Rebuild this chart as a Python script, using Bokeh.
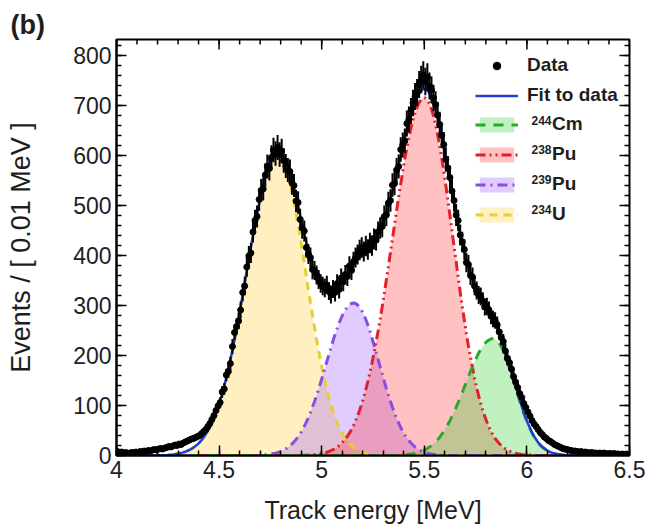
import numpy as np
from bokeh.plotting import figure
from bokeh.models import (Range1d, FixedTicker, Legend, LegendItem,
                          Label, ColumnDataSource)
from bokeh.embed import file_html
from bokeh.resources import INLINE

# ---- histogram binning -------------------------------------------------
bin_width = 0.01            # MeV
first_bin_center = 4.005    # MeV

# Events per 0.01 MeV bin, 4.00 - 6.50 MeV
counts = [
    8, 6, 7, 5, 6, 4, 5, 6, 5, 7, 6, 8, 7, 9, 8, 10, 9, 11, 12, 11,
    13, 14, 13, 15, 16, 18, 17, 19, 21, 20, 23, 22, 25, 27, 29, 31,
    33, 34, 36, 38, 40, 44, 48, 52, 58, 64,
    72, 80, 90, 99, 106, 127, 133, 161, 168, 184,
    218, 246, 258, 269, 291, 326, 339, 377, 399, 405,
    447, 470, 478, 512, 530, 533, 561, 578, 574, 596,
    611, 604, 616,
    602, 609, 590, 579, 571, 568, 545, 540, 509, 506, 472, 455, 449, 416, 403, 396, 372,
    370, 361, 352, 344, 339, 335, 341, 329, 322, 333,
    326, 344, 332, 355, 347, 362, 358, 379, 370, 388,
    396, 402, 411, 416, 408, 419, 412, 425, 420, 433,
    431, 447,
    455, 458, 478, 481, 505, 510, 541, 544, 571, 578,
    612, 621, 629, 664, 672, 689, 705, 718, 726, 742,
    752, 761, 748, 757, 739, 731, 715, 702, 681, 662,
    640, 622, 592, 575, 556, 529, 510, 481, 470, 441,
    427, 412, 386, 382, 360, 357, 339, 330, 321, 318,
    309, 297, 298, 291, 279, 273, 270, 262, 247, 236,
    228, 209, 194, 186, 173, 158, 147, 136, 124, 116,
    104,
    96, 87, 79, 70, 63, 58, 52, 46, 42, 37,
    34, 30, 28, 25, 22, 20, 18, 16, 14, 13,
    12, 11, 10, 9, 9, 8, 7, 8, 6, 7,
    6, 5, 6, 5, 5, 4, 5, 4, 5, 4,
    3, 4, 3, 4, 3, 3, 2, 3, 2, 3,
    2,
]

# ---- fitted components (events per bin, from the first listed bin on) ----
u234_start = 4.255
u234 = [
    1.4, 1.7, 2.2, 2.7, 3.3, 4.1, 5.0, 6.2, 7.5, 9.1, 11.0,
    13.2, 15.8, 18.8, 22.3, 26.3, 31.0, 36.3, 42.4, 49.1, 56.8,
    65.4, 75.0, 85.6, 97.2, 110, 124, 139, 155, 173, 191,
    211, 231, 252, 275, 298, 321, 345, 369, 393, 416,
    439, 462, 483, 503, 522, 539, 555, 568, 580, 588,
    595, 599, 600, 598, 594, 586, 575, 562, 546, 528,
    507, 485, 462, 437, 411, 386, 359, 332, 306, 281,
    256, 232, 210, 188, 168, 150, 132, 116, 102, 88,
    77, 66, 56, 48, 41, 34, 29, 24, 20, 16.5,
    13.5, 11, 9, 7.3, 5.9, 4.7, 3.7, 2.9, 2.3, 1.8,
    1.4, 1.0, 0.8, 0.6, 0.4,
]
pu239_start = 4.705
pu239 = [
    0.9, 1.2, 1.5, 1.9, 2.4, 3.1, 3.9, 4.8, 6.0, 7.4,
    9.1, 11.1, 13.4, 16.2, 19.3, 23.1, 27.3, 32.1, 37.6, 43.8,
    50.8, 58.4, 66.8, 76.1, 86.0, 96.8, 108, 120, 133, 146,
    160, 174, 188, 202, 216, 229, 242, 254, 265, 275,
    284, 291, 297, 302, 304, 305, 304, 301, 296, 290,
    282, 272, 261, 249, 235, 221, 207, 192, 177, 163,
    148, 134, 121, 108, 96, 85, 74, 65, 56, 48,
    41, 35, 30, 25, 21, 17, 14, 11.5, 9.3, 7.5,
    6.0, 4.8, 3.8, 3.0, 2.3, 1.8, 1.4, 1.0,
]
pu238_start = 4.905
pu238 = [
    0.45, 0.6, 0.7, 0.9, 1.2, 1.5, 1.8, 2.3, 2.9, 3.5,
    4.4, 5.3, 6.5, 8.0, 9.6, 11.6, 14.0, 16.7, 19.9, 23.5,
    27.8, 32.7, 38.3, 44.7, 51.9, 60.1, 69.1, 79.4, 90.7, 103,
    117, 132, 148, 166, 185, 205, 227, 249, 273, 298,
    324, 351, 378, 406, 434, 462, 489, 517, 543, 568,
    593, 615, 636, 655, 671, 685, 697, 706, 712, 715,
    715, 711, 704, 693, 679, 662, 642, 619, 595, 568,
    540, 510, 480, 449, 418, 388, 357, 327, 298, 271,
    244, 219, 197, 175, 154, 136, 119, 104, 90, 78,
    67, 57, 48, 41, 34, 29, 24, 20, 16, 13.4,
    10.9, 8.8, 7.1, 5.7, 4.6, 3.6, 2.9, 2.2, 1.7, 1.4,
    1.0, 0.8, 0.6, 0.4,
]
cm244_start = 5.405
cm244 = [
    1.5, 1.8, 2.3, 2.9, 3.6, 4.4, 5.5, 6.7, 8.1, 9.8,
    11.8, 14.1, 16.8, 19.8, 23.3, 27.2, 31.7, 36.6, 42.1, 48.2,
    54.8, 62.0, 69.8, 78.1, 86.9, 96.2, 106, 116, 126, 137,
    147, 158, 168, 178, 187, 196, 205, 212, 218, 224,
    228, 231, 233, 234, 233, 230, 225, 218, 209, 199,
    187, 175, 162, 149, 135, 122, 109, 96, 84, 73,
    63, 54, 45, 38, 32, 26, 21, 17, 14, 11,
    8.6, 6.7, 5.2, 4.0, 3.0, 2.3, 1.7, 1.3, 0.9,
]

# ---- legend text -----------------------------------------------------------
iso_symbols = ["Cm", "Pu", "Pu", "U"]
iso_masses = ["244", "238", "239", "234"]

# ---- axis ticks ----------------------------------------------------------
x_ticks = [4.0, 4.5, 5.0, 5.5, 6.0, 6.5]
x_tick_labels = ["4", "4.5", "5", "5.5", "6", "6.5"]
y_ticks = [0, 100, 200, 300, 400, 500, 600, 700, 800]
y_tick_labels = ["0", "100", "200", "300", "400", "500", "600", "700", "800"]
x_lo, x_hi = 4.0, 6.5
y_lo, y_hi = 0, 832
x_minor = [round(4.0 + 0.1 * i, 2) for i in range(26)]
y_minor = list(range(0, 832, 20))

# ---------------------------------------------------------------------------
energy = first_bin_center + bin_width * np.arange(len(counts))
n = np.array(counts, dtype=float)
err = np.sqrt(n)


def on_grid(start, values):
    full = np.zeros(len(counts))
    i0 = int(round((start - first_bin_center) / bin_width))
    full[i0:i0 + len(values)] = values
    return full


comp_u234 = on_grid(u234_start, u234)
comp_pu239 = on_grid(pu239_start, pu239)
comp_pu238 = on_grid(pu238_start, pu238)
comp_cm244 = on_grid(cm244_start, cm244)
fit_total = comp_u234 + comp_pu239 + comp_pu238 + comp_cm244

FONT = "Liberation Sans"
INK = "#1e1e1e"

p = figure(width=649, height=532, output_backend="svg", toolbar_location=None,
           x_range=Range1d(x_lo, x_hi), y_range=Range1d(y_lo, y_hi),
           min_border_left=116, min_border_right=20,
           min_border_top=39, min_border_bottom=77,
           background_fill_color="white", border_fill_color="white")
p.grid.visible = False
p.outline_line_color = "black"
p.outline_line_width = 2

# panel tag
p.title.text = "(b)"
p.title.align = "left"
p.title.offset = -106
p.title.standoff = 0
p.title.text_font = FONT
p.title.text_font_size = "27px"
p.title.text_font_style = "bold"
p.title.text_color = INK

src = ColumnDataSource(dict(
    x=energy, n=n, lo=n - err, hi=n + err,
    u234=comp_u234, pu239=comp_pu239, pu238=comp_pu238, cm244=comp_cm244,
    fit=fit_total, zero=np.zeros(len(counts)),
))

# component areas and outlines
styles = [
    ("u234", "#ffc933", "#e6cf2e", "8 6"),
    ("pu239", "#9955ff", "#8a4be8", "10 5 2 5"),
    ("pu238", "#ff3333", "#e0202a", "10 4 2 4 2 4"),
    ("cm244", "#33cc33", "#2aa82a", "10 8"),
]
areas = {}
lines = {}
for key, fill, line, dash in styles:
    areas[key] = p.varea(x="x", y1="zero", y2=key, source=src,
                         fill_color=fill, fill_alpha=0.3)
for key, fill, line, dash in styles:
    lines[key] = p.line(x="x", y=key, source=src, line_color=line,
                        line_width=3, line_dash=dash)

fit_r = p.line(x="x", y="fit", source=src, line_color="#1f3fd6", line_width=2.5)

p.segment(x0="x", y0="lo", x1="x", y1="hi", source=src,
          line_color="black", line_width=2)
data_r = p.scatter(x="x", y="n", source=src, marker="circle", size=6,
                   fill_color="black", line_color="black")

# axes
xa = p.xaxis[0]
ya = p.yaxis[0]
xa.ticker = FixedTicker(ticks=x_ticks, minor_ticks=x_minor)
ya.ticker = FixedTicker(ticks=y_ticks, minor_ticks=y_minor)
xa.major_label_overrides = {t: s for t, s in zip(x_ticks, x_tick_labels)}
ya.major_label_overrides = {t: s for t, s in zip(y_ticks, y_tick_labels)}
xa.axis_label = "Track energy [MeV]"
ya.axis_label = "Events / [ 0.01 MeV ]"

for ax in (xa, ya):
    ax.axis_line_width = 2
    ax.major_tick_in = 10
    ax.major_tick_out = 0
    ax.minor_tick_in = 5
    ax.minor_tick_out = 0
    ax.major_tick_line_width = 1.5
    ax.minor_tick_line_width = 1.5
    ax.major_label_text_font = FONT
    ax.major_label_text_font_size = "23px"
    ax.major_label_text_color = INK
    ax.axis_label_text_font = FONT
    ax.axis_label_text_font_style = "normal"
    ax.axis_label_text_color = INK
    ax.major_label_standoff = 5
xa.axis_label_text_font_size = "25px"
ya.axis_label_text_font_size = "27px"
xa.axis_label_standoff = 15
ya.axis_label_standoff = 34

# mirrored ticks along the top and right frame edges
px_x = (x_hi - x_lo) / 513.0     # data units per screen pixel
px_y = (y_hi - y_lo) / 416.0
p.segment(x0=x_ticks, y0=[y_hi] * len(x_ticks), x1=x_ticks,
          y1=[y_hi - 10 * px_y] * len(x_ticks), line_color="black", line_width=1.5)
p.segment(x0=x_minor, y0=[y_hi] * len(x_minor), x1=x_minor,
          y1=[y_hi - 5 * px_y] * len(x_minor), line_color="black", line_width=1.5)
p.segment(x0=[x_hi] * len(y_ticks), y0=y_ticks, x1=[x_hi - 10 * px_x] * len(y_ticks),
          y1=y_ticks, line_color="black", line_width=1.5)
p.segment(x0=[x_hi] * len(y_minor), y0=y_minor, x1=[x_hi - 5 * px_x] * len(y_minor),
          y1=y_minor, line_color="black", line_width=1.5)


def styled_legend(items, loc, standoff):
    lg = Legend(items=items, location=loc)
    lg.background_fill_alpha = 0
    lg.border_line_alpha = 0
    lg.padding = 0
    lg.margin = 0
    lg.spacing = 8
    lg.glyph_width = 43
    lg.glyph_height = 19
    lg.label_standoff = standoff
    lg.label_text_font = FONT
    lg.label_text_font_size = "19px"
    lg.label_text_font_style = "bold"
    lg.label_text_color = INK
    return lg


legend_top = styled_legend([
    LegendItem(label="Data", renderers=[data_r]),
    LegendItem(label="Fit to data", renderers=[fit_r]),
], (359, 349), 9)
iso_keys = ["cm244", "pu238", "pu239", "u234"]
legend_iso = styled_legend([
    LegendItem(label=sym, renderers=[areas[k], lines[k]])
    for sym, k in zip(iso_symbols, iso_keys)
], (359, 230), 34)
p.add_layout(legend_top, "center")
p.add_layout(legend_iso, "center")

# mass numbers as superscripts in front of the element symbols
row_pitch = 29.7
for i, mass in enumerate(iso_masses):
    p.add_layout(Label(x=415, y=455 - (124 + i * row_pitch - 9), x_units="screen",
                       y_units="screen", text=mass, text_font=FONT,
                       text_font_size="12px", text_font_style="bold",
                       text_color=INK, text_baseline="top"))

open("out.html", "w").write(file_html(p, INLINE))
